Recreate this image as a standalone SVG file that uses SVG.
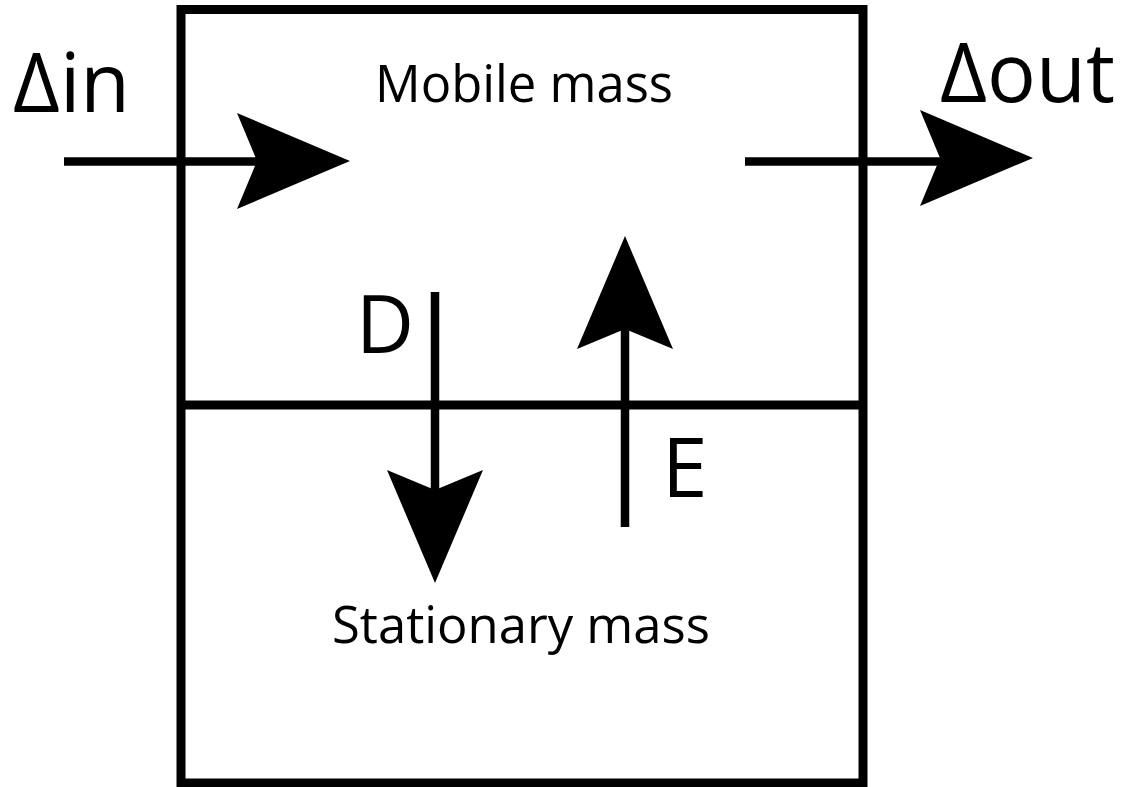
<svg xmlns="http://www.w3.org/2000/svg" xmlns:xlink="http://www.w3.org/1999/xlink" width="1125" height="787" viewBox="0 0 1125 787">
  <style>
    .frame { fill: none; stroke: #000; stroke-width: 9; }
    .line { fill: none; stroke: #000; stroke-width: 8.5; }
    .lbl { font-family: "Open Sans", "Noto Sans", sans-serif; fill: #000; }
  </style>
  <defs>
    <path id="head" d="M0,0 L-113,-48 L-93,0 L-113,48 Z" fill="#000"/>
  </defs>
  <rect width="1125" height="787" fill="#fff"/>
  <g id="system">
    <rect class="frame" x="181" y="9.5" width="682" height="773.5"/>
  </g>
  <g id="divider">
    <line class="frame" x1="181" y1="405" x2="863" y2="405"/>
  </g>
  <g id="mobile">
    <text class="lbl" x="375" y="102" font-size="51" textLength="298" lengthAdjust="spacingAndGlyphs">Mobile mass</text>
  </g>
  <g id="stationary">
    <text class="lbl" x="332" y="643" font-size="52" textLength="378" lengthAdjust="spacingAndGlyphs">Stationary mass</text>
  </g>
  <g id="labels">
    <text class="lbl" x="13" y="112" font-size="82" textLength="117" lengthAdjust="spacingAndGlyphs">Δin</text>
    <text class="lbl" x="940" y="102" font-size="82" textLength="175" lengthAdjust="spacingAndGlyphs">Δout</text>
    <text class="lbl" x="356" y="353" font-size="80">D</text>
    <text class="lbl" x="662" y="497" font-size="82">E</text>
  </g>
  <g id="connectors">
    <line class="line" x1="64" y1="161.5" x2="260" y2="161.5"/>
    <use xlink:href="#head" transform="translate(350,161)"/>
    <line class="line" x1="745" y1="161.5" x2="945" y2="161.5"/>
    <use xlink:href="#head" transform="translate(1033,158)"/>
    <line class="line" x1="435" y1="292" x2="435" y2="495"/>
    <use xlink:href="#head" transform="translate(435,583) rotate(90)"/>
    <line class="line" x1="625" y1="527" x2="625" y2="325"/>
    <use xlink:href="#head" transform="translate(625,236) rotate(-90)"/>
  </g>
</svg>
